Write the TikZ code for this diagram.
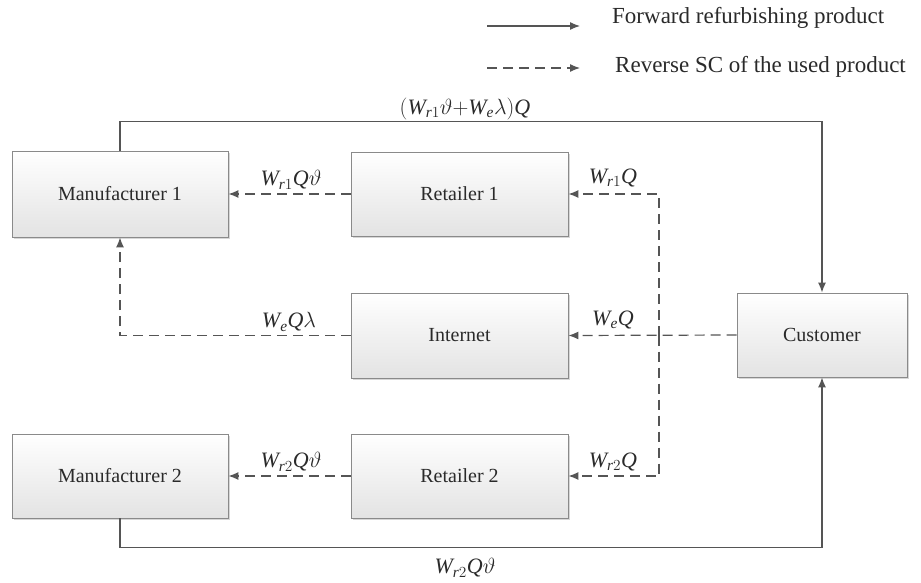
\RequirePackage{fix-cm}
\documentclass[tikz,border=0pt]{standalone}
\usepackage{amsmath}
\usepackage{fontspec}
\setmainfont{Liberation Serif}
\usetikzlibrary{arrows.meta,shadows}
\definecolor{linec}{HTML}{555555}
\definecolor{boxc}{HTML}{8A8A8A}
\definecolor{txtc}{HTML}{2A2A2A}
\newcommand{\iW}{\textit{W}}
\newcommand{\iQ}{\textit{Q}}
\newcommand{\ir}{\textit{r}}
\newcommand{\ie}{\textit{e}}
\tikzset{
  box/.style={draw=boxc, line width=0.9pt, top color=white, bottom color=gray!22,
    drop shadow={shadow xshift=2pt, shadow yshift=-2pt, fill=gray!45, opacity=0.7},
    inner sep=0pt, text=txtc, font=\fontsize{20}{24}\selectfont},
  fwd/.style={draw=linec, line width=1.2pt, -{Latex[length=10pt,width=8pt]}},
  rev/.style={fwd, dash pattern=on 10pt off 6pt},
  lab/.style={inner sep=0pt, text=txtc, font=\fontsize{22}{26}\selectfont},
  leg/.style={inner sep=0pt, anchor=west, text=txtc, font=\fontsize{23}{27}\selectfont}
}
\begin{document}
\begin{tikzpicture}[x=1pt,y=-1pt]
\useasboundingbox (0,0) rectangle (921,583);
% boxes
\node[box, minimum width=216pt, minimum height=86pt] (m1) at (120,194) {Manufacturer 1};
\node[box, minimum width=217pt, minimum height=84pt] (r1) at (459.5,194) {Retailer 1};
\node[box, minimum width=217pt, minimum height=85pt] (in) at (459.5,335.5) {Internet};
\node[box, minimum width=170pt, minimum height=84pt] (cu) at (822,335) {Customer};
\node[box, minimum width=216pt, minimum height=84pt] (m2) at (120,476) {Manufacturer 2};
\node[box, minimum width=217pt, minimum height=84pt] (r2) at (459.5,476) {Retailer 2};
% forward flows
\draw[fwd] (m1.north) -- ++(0,-29) -| (cu.north);
\draw[fwd] (m2.south) -- ++(0,29) -| (cu.south);
% reverse flows
\coordinate (j) at (659,335.5);
\draw[rev] (r1.west) -- (m1.east);
\draw[rev] (r2.west) -- (m2.east);
\draw[rev] (cu.west) -- (in.east);
\draw[rev] (j) |- (r1.east);
\draw[rev] (j) |- (r2.east);
\draw[rev] (in.west) -| (m1.south);
% labels
\node[lab] (l1) at (465,109) {$(\iW_{\ir1}\vartheta{+}\iW_{\ie}\lambda)\iQ$};
\node[lab] (l2) at (465,568) {$\iW_{\ir2}\iQ\vartheta$};
\node[lab] (l3) at (291,180) {$\iW_{\ir1}\iQ\vartheta$};
\node[lab] (l4) at (289,322) {$\iW_{\ie}\iQ\lambda$};
\node[lab] (l5) at (613,178) {$\iW_{\ir1}\iQ$};
\node[lab] (l6) at (613,320) {$\iW_{\ie}\iQ$};
\node[lab] (l7) at (613,462) {$\iW_{\ir2}\iQ$};
\node[lab] (l8) at (291,462) {$\iW_{\ir2}\iQ\vartheta$};
% legend
\coordinate (a1) at (487,26);
\coordinate (a2) at (580,26);
\coordinate (b1) at (487,68);
\coordinate (b2) at (580,68);
\draw[fwd] (a1) -- (a2);
\draw[rev] (b1) -- (b2);
\node[leg] (t1) at (612,18) {Forward refurbishing product};
\node[leg] (t2) at (615,67) {Reverse SC of the used product};
\end{tikzpicture}
\end{document}
